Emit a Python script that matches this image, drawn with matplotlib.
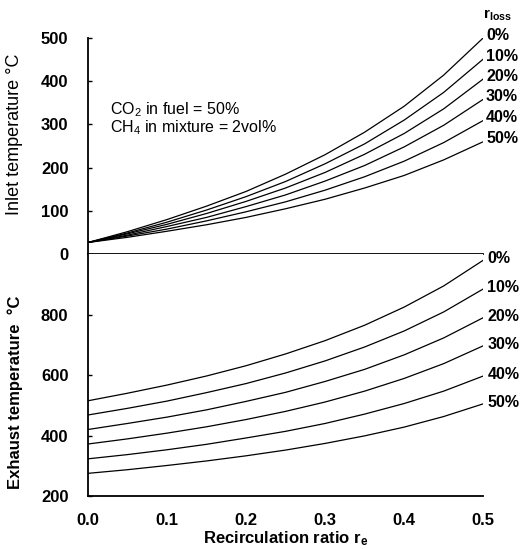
import numpy as np
import matplotlib.pyplot as plt

plt.rcParams['font.family'] = ['Liberation Sans', 'DejaVu Sans']
plt.rcParams['mathtext.default'] = 'regular'

# --- dati ---
r_e = [0.0, 0.05, 0.1, 0.15, 0.2, 0.25, 0.3, 0.35, 0.4, 0.45, 0.5]
loss_labels = ['0%', '10%', '20%', '30%', '40%', '50%']

inlet_T = [
    [27, 52, 80, 111, 145, 185, 230, 282, 342, 414, 500],
    [27, 49, 74, 102, 133, 168, 209, 255, 310, 374, 451],
    [27, 47, 69, 94, 122, 153, 189, 231, 279, 336, 405],
    [27, 44, 64, 85, 110, 137, 169, 205, 248, 298, 358],
    [27, 42, 58, 77, 98, 121, 148, 179, 215, 258, 309],
    [27, 39, 53, 68, 85, 105, 127, 153, 182, 218, 260],
]

exhaust_T = [
    [515, 540, 567, 597, 631, 670, 714, 765, 825, 895, 980],
    [468, 490, 514, 542, 572, 607, 647, 693, 746, 809, 885],
    [420, 440, 461, 485, 513, 543, 579, 619, 667, 723, 790],
    [372, 389, 408, 429, 453, 480, 511, 547, 589, 638, 697],
    [323, 337, 353, 371, 392, 414, 440, 471, 506, 547, 597],
    [275, 287, 301, 316, 333, 352, 374, 399, 428, 463, 505],
]

fig = plt.figure(figsize=(5.23, 5.49), dpi=100)
ax1 = fig.add_axes([0.168, 0.537, 0.756, 0.394])
ax2 = fig.add_axes([0.168, 0.0965, 0.756, 0.4405])

lab_font = dict(fontsize=11.5, fontweight='bold')

for ax in (ax1, ax2):
    ax.spines['top'].set_visible(False)
    ax.spines['right'].set_visible(False)
    ax.spines['left'].set_linewidth(1.3)
    ax.spines['bottom'].set_linewidth(1.3)
    ax.set_xlim(0, 0.5)
    ax.set_xticks([0.0, 0.1, 0.2, 0.3, 0.4, 0.5])
    ax.set_xticks([0.1, 0.4], minor=True)
    ax.tick_params(axis='x', which='major', length=0, pad=12)
    ax.tick_params(axis='x', which='minor', direction='in', length=4, width=1)
    ax.tick_params(axis='y', direction='in', length=3, width=1, pad=14)
    for t in ax.get_xticklabels() + ax.get_yticklabels():
        t.set_fontweight('bold')
        t.set_fontsize(12)

# pannello superiore: temperatura di ingresso
for vals, lab in zip(inlet_T, loss_labels):
    ax1.plot(r_e, vals, color='black', linewidth=0.9)
    ax1.annotate(lab, (r_e[-1], vals[-1]), xytext=(2, 2), textcoords='offset points',
                 va='center', ha='left', annotation_clip=False, **lab_font)
ax1.set_ylim(0, 500)
ax1.set_yticks([0, 100, 200, 300, 400, 500])
ax1.tick_params(axis='x', which='major', labelbottom=False)
ax1.annotate('r$_{loss}$', (r_e[-1], 500), xytext=(0, 16), textcoords='offset points',
             va='center', ha='left', annotation_clip=False, fontsize=11, fontweight='bold')
ax1.text(0.028, 324, 'CO$_2$ in fuel = 50%', fontsize=11.5)
ax1.text(0.028, 282, 'CH$_4$ in mixture = 2vol%', fontsize=11.5)
ax1.set_ylabel('Inlet temperature °C', fontsize=13)
ax1.yaxis.set_label_coords(-0.165, 0.555)

# pannello inferiore: temperatura di scarico
for vals, lab in zip(exhaust_T, loss_labels):
    ax2.plot(r_e, vals, color='black', linewidth=0.9)
    ax2.annotate(lab, (r_e[-1], vals[-1]), xytext=(3, 1), textcoords='offset points',
                 va='center', ha='left', annotation_clip=False, **lab_font)
ax2.set_ylim(200, 1000)
ax2.set_yticks([200, 400, 600, 800])
ax2.set_ylabel('Exhaust temperature  °C', fontsize=12, fontweight='bold')
ax2.yaxis.set_label_coords(-0.165, 0.43)
ax2.set_xlabel('Recirculation ratio r$_e$', fontsize=12, fontweight='bold', labelpad=1)

fig.savefig('out.png', dpi=100)
